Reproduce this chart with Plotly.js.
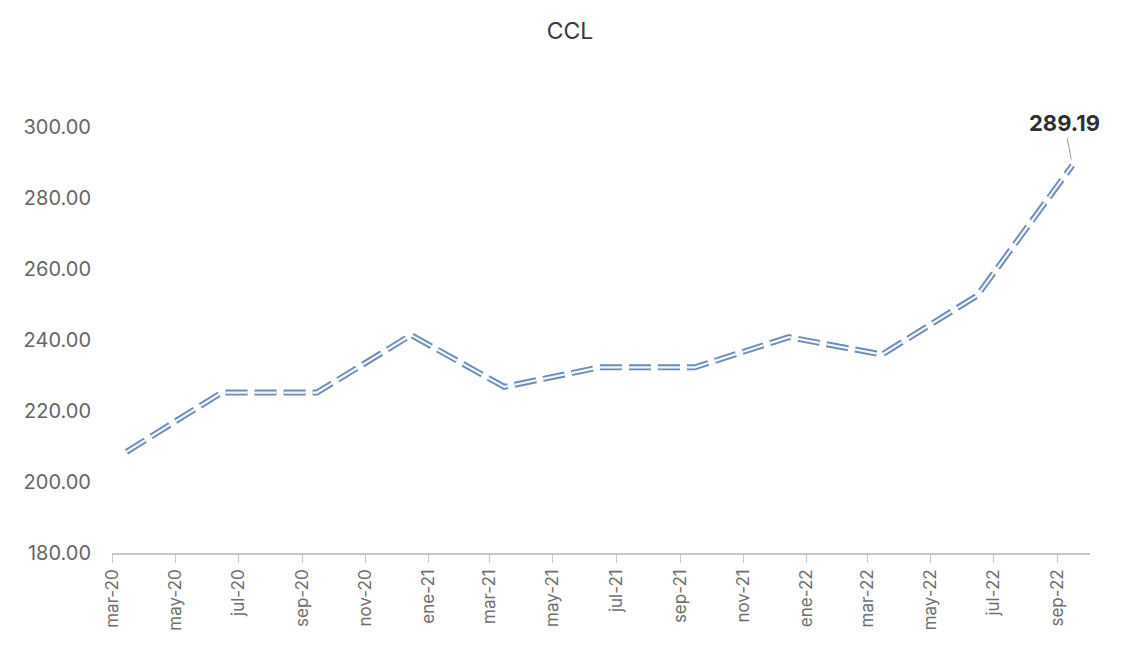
<!DOCTYPE html>
<html>
<head>
<meta charset="utf-8">
<script src="https://cdn.plot.ly/plotly-3.0.1.min.js"></script>
<style>html,body{margin:0;padding:0;background:#fff;}#chart{width:1140px;height:652px;}</style>
</head>
<body>
<div id="chart"></div>
<script>
// Data (quarterly observations)
const dates = ["2020-03-15","2020-06-15","2020-09-15","2020-12-15","2021-03-15","2021-06-15","2021-09-15","2021-12-15","2022-03-15","2022-06-15","2022-09-15"];
const ccl = [208.5, 225.2, 225.2, 241.4, 226.8, 232.3, 232.3, 240.8, 235.9, 252.5, 289.19];

// Tick labels (every two months)
const tickDates = ["2020-03-01","2020-05-01","2020-07-01","2020-09-01","2020-11-01","2021-01-01","2021-03-01","2021-05-01","2021-07-01","2021-09-01","2021-11-01","2022-01-01","2022-03-01","2022-05-01","2022-07-01","2022-09-01"];
const tickLabels = ["mar-20","may-20","jul-20","sep-20","nov-20","ene-21","mar-21","may-21","jul-21","sep-21","nov-21","ene-22","mar-22","may-22","jul-22","sep-22"];

const FONT = "Inter, 'Open Sans', sans-serif";
const dashPat = "22px,7px";

const outer = {
  x: dates, y: ccl, type: "scatter", mode: "lines",
  line: {color: "#6f8db4", width: 6, dash: dashPat},
  hoverinfo: "skip", showlegend: false
};
const inner = {
  x: dates, y: ccl, type: "scatter", mode: "lines",
  line: {color: "#f2f7fd", width: 2.2, dash: dashPat},
  hoverinfo: "skip", showlegend: false
};

const lastIdx = ccl.length - 1;

const layout = {
  width: 1140, height: 652,
  paper_bgcolor: "#ffffff", plot_bgcolor: "#ffffff",
  margin: {l: 112, r: 50, t: 127, b: 99},
  title: {text: "CCL", x: 0.5, xanchor: "center", y: 0.953, yanchor: "middle",
          font: {family: FONT, size: 23, color: "#3a3a3a"}},
  font: {family: FONT},
  xaxis: {
    type: "date",
    range: ["2020-03-01", "2022-10-02"],
    tickmode: "array", tickvals: tickDates, ticktext: tickLabels,
    tickangle: -90,
    tickfont: {family: FONT, size: 17, color: "#707070"},
    ticks: "outside", ticklen: 8, tickcolor: "#c8c8c8", tickwidth: 1,
    showline: true, linecolor: "#c8c8c8", linewidth: 1.5,
    showgrid: false, zeroline: false, fixedrange: true
  },
  yaxis: {
    range: [180, 300],
    tickmode: "linear", tick0: 180, dtick: 20,
    tickformat: ".2f",
    tickfont: {family: FONT, size: 20, color: "#666666"},
    ticklabelstandoff: 20,
    showline: false, showgrid: false, zeroline: false, ticks: "", fixedrange: true
  },
  annotations: [{
    x: dates[lastIdx], y: ccl[lastIdx], xref: "x", yref: "y",
    text: "<b>" + ccl[lastIdx].toFixed(2) + "</b>",
    showarrow: true, arrowhead: 0, arrowwidth: 1, arrowcolor: "#9a9a9a",
    ax: -8, ay: -42, standoff: 6,
    font: {family: FONT, size: 22, color: "#2f2f2f"}
  }]
};

Plotly.newPlot("chart", [outer, inner], layout, {displayModeBar: false, staticPlot: true});
</script>
</body>
</html>
